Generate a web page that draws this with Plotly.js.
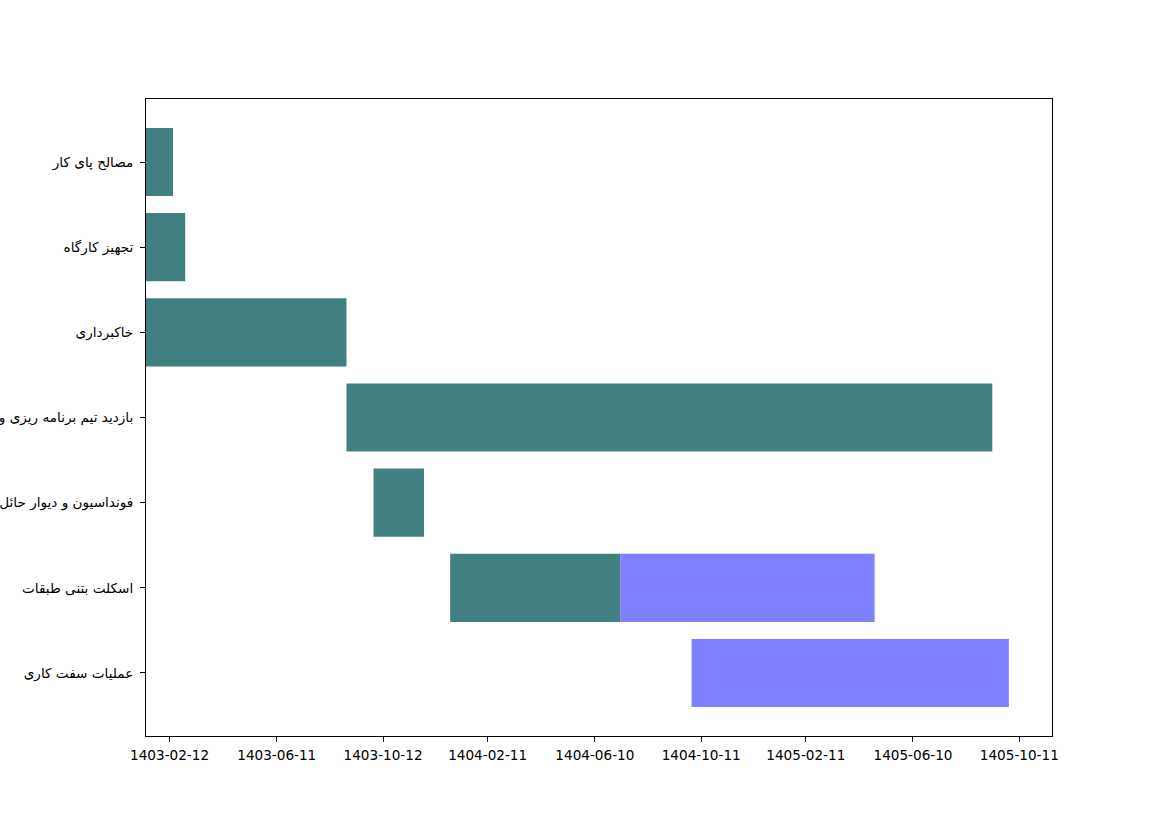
<!DOCTYPE html>
<html>
<head>
<meta charset="utf-8">
<script src="https://cdn.plot.ly/plotly-3.0.1.min.js"></script>
<style>
html,body{margin:0;padding:0;background:#fff;}
#chart{width:1169px;height:827px;}
</style>
</head>
<body>
<div id="chart"></div>
<script>
// Task names (top to bottom)
const tasks = [
  "مصالح پای کار",
  "تجهیز کارگاه",
  "خاکبرداری",
  "بازدید تیم برنامه ریزی و",
  "فونداسیون و دیوار حائل",
  "اسکلت بتنی طبقات",
  "عملیات سفت کاری"
];

// Completed (teal) segments
const doneTasks = ["مصالح پای کار","تجهیز کارگاه","خاکبرداری","بازدید تیم برنامه ریزی و","فونداسیون و دیوار حائل","اسکلت بتنی طبقات"];
const doneStart = ["2024-04-04","2024-04-04","2024-04-04","2024-11-20","2024-12-21","2025-03-19"];
const doneEnd   = ["2024-05-05","2024-05-19","2024-11-20","2026-12-01","2025-02-17","2025-09-30"];

// Remaining (blue) segments
const planTasks = ["اسکلت بتنی طبقات","عملیات سفت کاری"];
const planStart = ["2025-09-30","2025-12-21"];
const planEnd   = ["2026-07-19","2026-12-20"];

// X tick positions (Gregorian) and labels (Jalali)
const tickVals = ["2024-05-01","2024-09-01","2025-01-01","2025-05-01","2025-09-01","2026-01-01","2026-05-01","2026-09-01","2027-01-01"];
const tickText = ["1403-02-12","1403-06-11","1403-10-12","1404-02-11","1404-06-10","1404-10-11","1405-02-11","1405-06-10","1405-10-11"];

const ms = d => Date.parse(d + "T00:00:00Z");
const dur = (s, e) => s.map((v, i) => ms(e[i]) - ms(v));

const allStart = doneStart.concat(planStart).map(ms);
const allEnd = doneEnd.concat(planEnd).map(ms);
const xmin = Math.min(...allStart), xmax = Math.max(...allEnd);
const xRange = [xmin, xmax + 0.05 * (xmax - xmin)];

const traces = [
  {type:"bar", orientation:"h", y:doneTasks, base:doneStart, x:dur(doneStart, doneEnd),
   width:0.8, marker:{color:"#408080", line:{width:0}}, hoverinfo:"y", showlegend:false},
  {type:"bar", orientation:"h", y:planTasks, base:planStart, x:dur(planStart, planEnd),
   width:0.8, marker:{color:"#8080ff", line:{width:0}}, hoverinfo:"y", showlegend:false}
];

const font = {family:"DejaVu Sans, sans-serif", size:13.6, color:"#000"};

const layout = {
  width:1169, height:827,
  margin:{l:146, r:117, t:99, b:91, pad:0},
  paper_bgcolor:"#fff", plot_bgcolor:"#fff",
  barmode:"overlay",
  showlegend:false,
  font:font,
  xaxis:{
    type:"date",
    range:[new Date(xRange[0]).toISOString(), new Date(xRange[1]).toISOString()],
    tickmode:"array", tickvals:tickVals, ticktext:tickText,
    ticks:"outside", ticklen:5, tickwidth:1, tickcolor:"#000",
    ticklabelstandoff:2,
    showline:true, linecolor:"#000", linewidth:1, mirror:true,
    showgrid:false, zeroline:false, automargin:false,
    tickfont:font
  },
  yaxis:{
    type:"category",
    categoryorder:"array", categoryarray:tasks,
    range:[6.74, -0.74],
    ticks:"outside", ticklen:5, tickwidth:1, tickcolor:"#000",
    ticklabelstandoff:4,
    showline:true, linecolor:"#000", linewidth:1, mirror:true,
    showgrid:false, zeroline:false, automargin:false,
    tickfont:font
  }
};

Plotly.newPlot("chart", traces, layout, {displayModeBar:false, staticPlot:true});
</script>
</body>
</html>
